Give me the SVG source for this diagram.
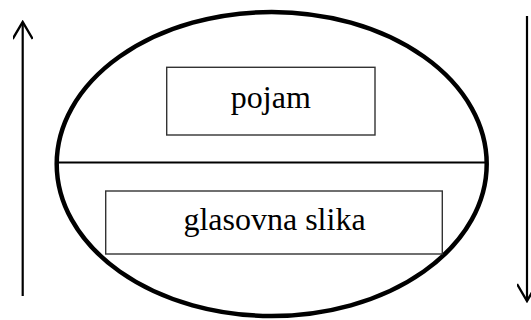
<svg xmlns="http://www.w3.org/2000/svg" width="531" height="320" viewBox="0 0 531 320">
<style>
.box{fill:#fff;stroke:#333;stroke-width:1.4}
.lbl{font-family:"Liberation Serif","Times New Roman",serif;font-size:32px;fill:#000;text-anchor:middle}
.arr{stroke:#000;stroke-width:2.2;fill:none;marker-end:url(#head)}
</style>
<defs>
<marker id="head" viewBox="0 0 20 20" refX="18" refY="10" markerWidth="20" markerHeight="20" markerUnits="userSpaceOnUse" orient="auto">
<path d="M1,0 L18,10 L1,20" fill="none" stroke="#000" stroke-width="2.4" stroke-linejoin="miter"/>
</marker>
</defs>
<rect width="531" height="320" fill="#fff"/>
<g id="ellipse">
<ellipse cx="271.7" cy="164" rx="215" ry="152" fill="none" stroke="#000" stroke-width="4.5"/>
<line x1="58" y1="162.5" x2="485" y2="162.5" stroke="#000" stroke-width="2"/>
</g>
<g id="pojam">
<rect class="box" x="166.7" y="67.3" width="208.3" height="67.7"/>
<text class="lbl" x="270.8" y="108">pojam</text>
</g>
<g id="glasovna-slika">
<rect class="box" x="105.7" y="191" width="336.6" height="63"/>
<text class="lbl" x="274.5" y="230">glasovna slika</text>
</g>
<g id="connectors">
<line class="arr" x1="22.7" y1="296" x2="22.7" y2="22"/>
<line class="arr" x1="527" y1="16" x2="527" y2="301"/>
</g>
</svg>
